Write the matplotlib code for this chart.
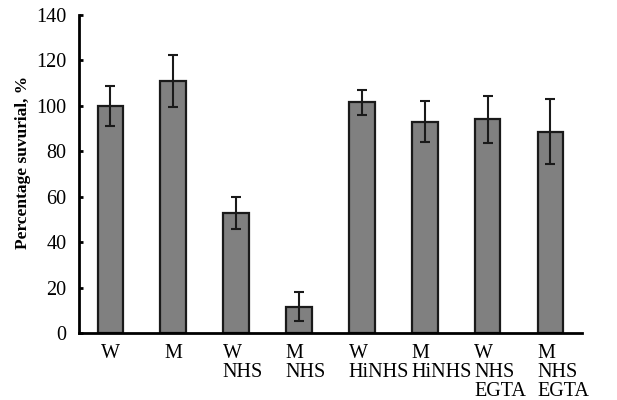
import numpy as np
import matplotlib
matplotlib.use("Agg")
import matplotlib.pyplot as plt
from matplotlib.transforms import blended_transform_factory

# values
labels = ["W", "M", "W\nNHS", "M\nNHS", "W\nHiNHS", "M\nHiNHS", "W\nNHS\nEGTA", "M\nNHS\nEGTA"]
survival = [100, 111, 53, 11.5, 101.5, 93, 94, 88.5]
errors = [8.7, 11.5, 7, 6.4, 5.7, 9, 10.5, 14.3]

plt.rcParams["font.family"] = ["Liberation Serif", "DejaVu Serif"]

fig = plt.figure(figsize=(6.17, 4.0), dpi=100)
ax = fig.add_axes([0.128, 0.1675, 0.815, 0.795])

x = np.arange(len(labels))
ax.bar(x, survival, width=0.41, color="#808080", edgecolor="#1a1a1a", linewidth=1.6, zorder=2)
ax.errorbar(x, survival, yerr=errors, fmt="none", ecolor="#1a1a1a",
            elinewidth=1.5, capsize=3.5, capthick=1.5, zorder=3)

ax.set_xlim(-0.5, 7.5)
ax.set_ylim(0, 140)
ax.set_yticks(np.arange(0, 141, 20))
ax.tick_params(axis="y", direction="in", length=3, width=2, pad=9, labelsize=14.5)
ax.set_xticks([])

for s in ["top", "right"]:
    ax.spines[s].set_visible(False)
ax.spines["left"].set_linewidth(2)
ax.spines["bottom"].set_linewidth(2)

trans = blended_transform_factory(ax.transData, ax.transAxes)
for i, lab in enumerate(labels):
    if "\n" in lab:
        ax.text(i - 0.21, -0.035, lab, transform=trans, ha="left", va="top",
                fontsize=14.5, linespacing=1.0)
    else:
        ax.text(i, -0.035, lab, transform=trans, ha="center", va="top",
                fontsize=14.5, linespacing=1.0)

ax.set_ylabel("Percentage suvurial, %", fontsize=12.5, fontweight="bold")
ax.yaxis.set_label_coords(-0.095, 0.535)

fig.savefig("out.png", dpi=100)
